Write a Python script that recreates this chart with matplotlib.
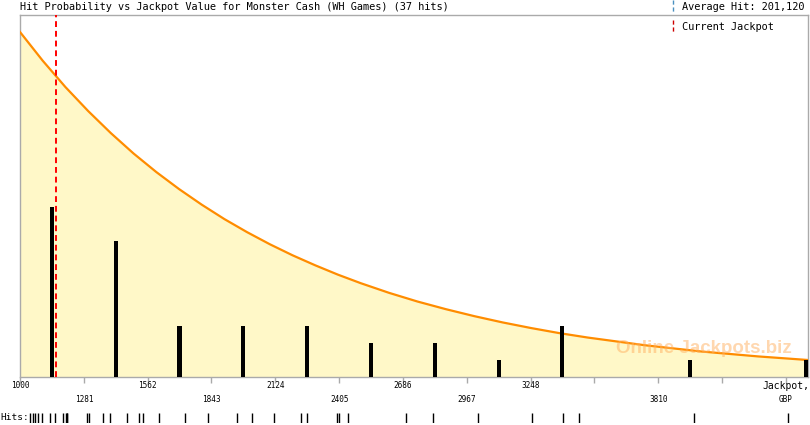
import matplotlib
matplotlib.use("Agg")
import matplotlib.pyplot as plt
import matplotlib.transforms as mtrans

# jackpot values (GBP) of the 37 hits
hits = [1044, 1057, 1066, 1079, 1097, 1132, 1154, 1189, 1202, 1207, 1209,
        1295, 1304, 1365, 1396, 1471, 1524, 1541, 1612, 1726, 1828, 1955,
        2021, 2118, 2237, 2263, 2395, 2404, 2444, 2699, 2818, 3016, 3254,
        3390, 3461, 3967, 4381]

# histogram bars (bin centre, number of hits)
bar_x = [1140, 1421, 1702, 1983, 2264, 2545, 2826, 3107, 3388, 3950, 4460]
bar_n = [10, 8, 3, 3, 3, 2, 2, 1, 3, 1, 1]

# hit probability curve (in hits units)
curve_x = [1000, 1100, 1200, 1300, 1400, 1500, 1600, 1700, 1800, 1900, 2000,
           2100, 2200, 2300, 2400, 2500, 2625, 2750, 2875, 3000, 3125, 3250,
           3375, 3500, 3750, 4000, 4250, 4469]
curve_y = [20.30, 18.61, 17.06, 15.65, 14.35, 13.15, 12.06, 11.06, 10.14, 9.29,
           8.52, 7.81, 7.16, 6.57, 6.02, 5.52, 4.95, 4.44, 3.99, 3.58, 3.21,
           2.88, 2.58, 2.32, 1.87, 1.50, 1.21, 1.00]

current_jackpot = 1158
avg_hit = "201,120"

tick_vals = [1000, 1281, 1562, 1843, 2124, 2405, 2686, 2967, 3248, 3529, 3810, 4091, 4372]
tick_text = ["1000", "1281", "1562", "1843", "2124", "2405", "2686", "2967", "3248", "", "3810", "", ""]
tick_row = [0, 1, 0, 1, 0, 1, 0, 1, 0, 1, 1, 1, 0]

W, H = 810, 425
fig = plt.figure(figsize=(W / 100, H / 100), dpi=100)
mono = "DejaVu Sans Mono"
grey = "#aaaaaa"

ax = fig.add_axes([20 / W, 1 - 377 / H, 788 / W, 362 / H])
ax.set_xlim(1000, 4469)
ax.set_ylim(0, 21.3)

ax.fill_between(curve_x, curve_y, 0, color="#fff8c8", lw=0, zorder=1)
ax.plot(curve_x, curve_y, color="#ff8c00", lw=1.6, zorder=3)
ax.bar(bar_x, bar_n, width=18, color="black", zorder=4)
ax.axvline(current_jackpot, color="red", lw=1.4, ls=(0, (3, 2)), zorder=5)

ax.text(0.98, 0.08, "Online Jackpots.biz", transform=ax.transAxes, ha="right",
        va="center", fontsize=13.5, fontweight="bold", family="Liberation Sans",
        color="#ffb060", alpha=0.5, zorder=6)

for s in ax.spines.values():
    s.set_color(grey)
    s.set_linewidth(1.0)
ax.set_yticks([])
ax.set_xticks(tick_vals)
ax.set_xticklabels([])
ax.tick_params(axis="x", direction="out", length=4.5, color=grey, width=1)

tr = mtrans.blended_transform_factory(ax.transData, fig.transFigure)
for v, t, r in zip(tick_vals, tick_text, tick_row):
    yy = 386 if r == 0 else 399
    ax.text(v, 1 - yy / H, t, transform=tr, ha="center", va="center",
            fontsize=5.6, family=mono, clip_on=False)
ax.text(4372, 1 - 386 / H, "Jackpot,", transform=tr, ha="center", va="center",
        fontsize=7, family=mono, clip_on=False)
ax.text(4372, 1 - 399 / H, "GBP", transform=tr, ha="center", va="center",
        fontsize=5.6, family=mono, clip_on=False)

# rug of individual hits
rug = fig.add_axes([20 / W, 1 - 423 / H, 788 / W, 10 / H])
rug.set_xlim(1000, 4469)
rug.set_ylim(0, 1)
rug.vlines(hits, 0, 1, color="black", lw=1.0)
rug.axis("off")
fig.text(0 / W, 1 - 418 / H, "Hits:", ha="left", va="center", fontsize=6.8, family=mono)

fig.text(20 / W, 1 - 7 / H, "Hit Probability vs Jackpot Value for Monster Cash (WH Games) (37 hits)",
         ha="left", va="center", fontsize=7.4, family=mono)
fig.text(682 / W, 1 - 7 / H, "Average Hit: " + avg_hit, ha="left", va="center",
         fontsize=7.4, family=mono)
fig.text(682 / W, 1 - 27 / H, "Current Jackpot", ha="left", va="center",
         fontsize=7.4, family=mono)
fig.add_artist(plt.Line2D([673 / W, 673 / W], [1 - 0 / H, 1 - 12 / H], color="#4a90c0",
                          lw=1, ls=(0, (3, 2))))
fig.add_artist(plt.Line2D([673 / W, 673 / W], [1 - 20 / H, 1 - 32 / H], color="#cc0000",
                          lw=1, ls=(0, (3, 2))))

fig.savefig("out.png", dpi=100)
